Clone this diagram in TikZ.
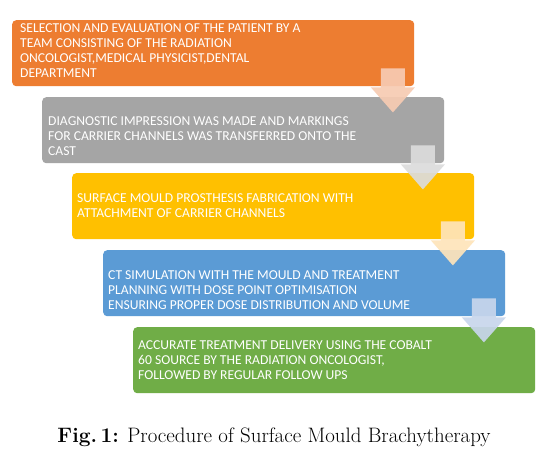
\documentclass[tikz,border=0pt]{standalone}
\usepackage{fontspec}
\newfontfamily\boxfont{Carlito}
\usetikzlibrary{calc}
\definecolor{c1}{HTML}{ED7D31}
\definecolor{c2}{HTML}{A5A5A5}
\definecolor{c3}{HTML}{FFC000}
\definecolor{c4}{HTML}{5B9BD5}
\definecolor{c5}{HTML}{70AD47}
\definecolor{a1}{HTML}{F7CBB3}
\definecolor{a2}{HTML}{DCDCDC}
\definecolor{a3}{HTML}{FEE4BA}
\definecolor{a4}{HTML}{C8D6EC}
\tikzset{
  stepbox/.style={rounded corners=4pt, minimum width=402pt, minimum height=66pt, anchor=north west, inner sep=0pt},
  boxtext/.style={anchor=north west, inner sep=0pt, align=left, text=white, font={\boxfont\fontsize{13.6}{15}\selectfont}},
  flowarrow/.style={fill opacity=0.92}
}
\newcommand{\downarrowshape}[2]{%
  \fill[flowarrow, #2]
    ($(#1.south east)+(-33.5,-18)$) -- ($(#1.south east)+(-9.5,-18)$)
    -- ($(#1.south east)+(-9.5,1)$) -- ($(#1.south east)+(0.5,1)$)
    -- ($(#1.south east)+(-21.5,26)$) -- ($(#1.south east)+(-43.5,1)$)
    -- ($(#1.south east)+(-33.5,1)$) -- cycle;}
\begin{document}
\begin{tikzpicture}[x=1pt,y=-1pt]
\useasboundingbox (0,0) rectangle (554,456);
\fill[white] (0,0) rectangle (554,456);
\node[stepbox, fill=c1] (b1) at (12,20) {};
\node[stepbox, fill=c2] (b2) at (42,97) {};
\node[stepbox, fill=c3] (b3) at (72,173) {};
\node[stepbox, fill=c4] (b4) at (103,250) {};
\node[stepbox, fill=c5] (b5) at (133,327) {};
\node[boxtext] (t1) at (20,23.7) {SELECTION AND EVALUATION OF THE PATIENT BY A\\TEAM CONSISTING OF THE RADIATION\\ONCOLOGIST,MEDICAL PHYSICIST,DENTAL\\DEPARTMENT};
\node[boxtext] (t2) at (48,116.7) {DIAGNOSTIC IMPRESSION WAS MADE AND MARKINGS\\FOR CARRIER CHANNELS WAS TRANSFERRED ONTO THE\\CAST};
\node[boxtext] (t3) at (77,193.7) {SURFACE MOULD PROSTHESIS FABRICATION WITH\\ATTACHMENT OF CARRIER CHANNELS};
\node[boxtext] (t4) at (108,270.7) {CT SIMULATION WITH THE MOULD AND TREATMENT\\PLANNING WITH DOSE POINT OPTIMISATION\\ENSURING PROPER DOSE DISTRIBUTION AND VOLUME};
\node[boxtext] (t5) at (138,340.7) {ACCURATE TREATMENT DELIVERY USING THE COBALT\\60 SOURCE BY THE RADIATION ONCOLOGIST,\\FOLLOWED BY REGULAR FOLLOW UPS};
\downarrowshape{b1}{a1}
\downarrowshape{b2}{a2}
\downarrowshape{b3}{a3}
\downarrowshape{b4}{a4}
\node[anchor=base, inner sep=0pt, font={\fontsize{20.9}{24}\selectfont}] (cap) at (274,442) {\textbf{Fig.\,1:} Procedure of Surface Mould Brachytherapy};
\end{tikzpicture}
\end{document}
